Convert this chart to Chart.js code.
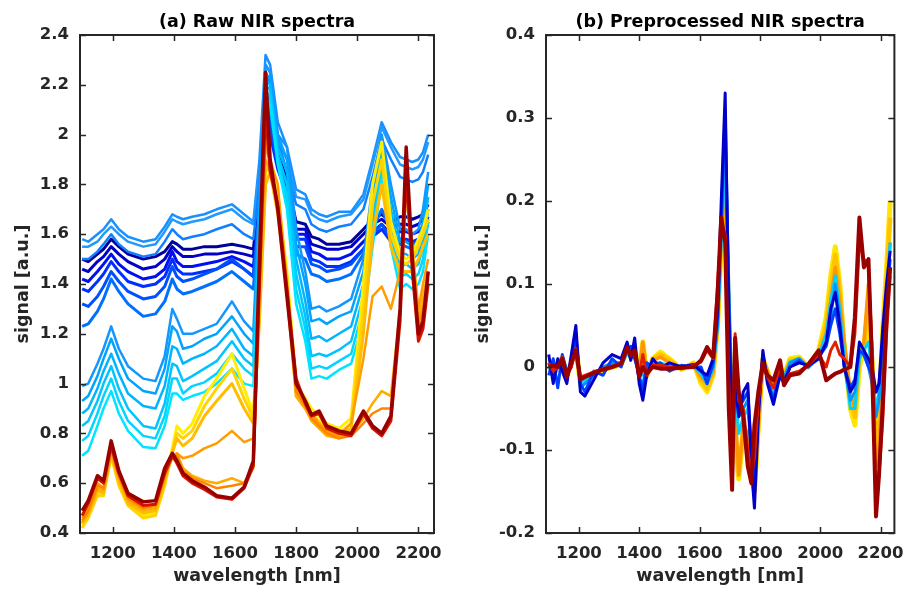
<!DOCTYPE html>
<html>
<head>
<meta charset="utf-8">
<title>NIR spectra</title>
<script src="https://cdn.jsdelivr.net/npm/chart.js@4.4.0/dist/chart.umd.min.js"></script>
<style>
    body { margin: 0; background: #fff; width: 915px; height: 590px; position: relative; overflow: hidden; }
    .panel { position: absolute; top: 0; height: 590px; }
</style>
</head>
<body>
<div class="panel" style="left:0;width:460px"><canvas id="rawChart"></canvas></div>
<div class="panel" style="left:460px;width:455px"><canvas id="prepChart"></canvas></div>
<script>
// ---- (a) raw spectra ----
const rawWavelength = [1100,1120,1150,1170,1195,1220,1250,1300,1340,1370,1395,1410,1430,1460,1500,1540,1590,1630,1660,1680,1700,1715,1740,1770,1800,1830,1850,1875,1900,1940,1980,2020,2050,2080,2110,2140,2160,2180,2200,2215,2232];

const rawTop1 = [1.58,1.57,1.6,1.62,1.66,1.62,1.59,1.57,1.58,1.63,1.68,1.67,1.66,1.67,1.68,1.7,1.72,1.68,1.65,1.9,2.32,2.28,2.05,1.95,1.78,1.76,1.7,1.68,1.67,1.69,1.69,1.76,1.9,2.05,1.97,1.91,1.9,1.89,1.9,1.93,2.0];
const rawTop2 = [1.55,1.55,1.57,1.6,1.63,1.6,1.57,1.55,1.56,1.61,1.66,1.65,1.64,1.65,1.66,1.68,1.7,1.66,1.64,1.85,2.28,2.25,2.0,1.9,1.75,1.74,1.68,1.66,1.65,1.67,1.68,1.74,1.88,2.03,1.95,1.88,1.87,1.86,1.87,1.9,1.97];
const rawTop3 = [1.5,1.5,1.53,1.56,1.6,1.56,1.53,1.51,1.52,1.57,1.62,1.6,1.58,1.59,1.6,1.62,1.64,1.6,1.58,1.8,2.25,2.2,1.98,1.85,1.72,1.7,1.64,1.62,1.61,1.63,1.64,1.7,1.83,1.98,1.9,1.83,1.82,1.81,1.82,1.85,1.92];
const rawNavy1 = [1.5,1.49,1.52,1.54,1.58,1.55,1.52,1.5,1.51,1.53,1.57,1.56,1.54,1.54,1.55,1.55,1.56,1.55,1.54,1.75,2.15,2.1,1.92,1.82,1.65,1.64,1.59,1.58,1.56,1.56,1.57,1.62,1.66,1.68,1.65,1.67,1.67,1.66,1.67,1.68,1.72];
const rawNavy2 = [1.46,1.45,1.49,1.51,1.55,1.52,1.49,1.46,1.47,1.5,1.55,1.53,1.51,1.51,1.52,1.52,1.53,1.52,1.51,1.72,2.12,2.06,1.9,1.8,1.62,1.62,1.56,1.55,1.54,1.54,1.55,1.6,1.64,1.66,1.63,1.64,1.64,1.63,1.64,1.66,1.7];
const rawNavy3 = [1.42,1.41,1.45,1.48,1.52,1.48,1.45,1.42,1.43,1.46,1.53,1.49,1.47,1.47,1.48,1.49,1.51,1.49,1.47,1.7,2.1,2.03,1.88,1.78,1.6,1.6,1.53,1.52,1.5,1.5,1.52,1.57,1.61,1.64,1.6,1.61,1.61,1.6,1.61,1.63,1.67];
const rawNavy4 = [1.38,1.37,1.41,1.44,1.49,1.45,1.41,1.39,1.4,1.43,1.5,1.46,1.44,1.44,1.45,1.46,1.49,1.46,1.43,1.68,2.08,2.0,1.86,1.76,1.58,1.58,1.5,1.49,1.47,1.47,1.49,1.54,1.59,1.62,1.57,1.58,1.58,1.57,1.58,1.6,1.64];
const rawBlue1 = [1.32,1.31,1.35,1.39,1.45,1.41,1.37,1.34,1.35,1.39,1.47,1.43,1.41,1.42,1.44,1.46,1.5,1.46,1.43,1.7,2.15,2.05,1.88,1.75,1.55,1.55,1.48,1.47,1.45,1.46,1.48,1.54,1.6,1.64,1.58,1.58,1.57,1.56,1.57,1.6,1.66];
const rawBlue2 = [1.23,1.24,1.29,1.34,1.42,1.37,1.32,1.27,1.28,1.33,1.42,1.38,1.36,1.37,1.39,1.41,1.45,1.41,1.38,1.7,2.18,2.1,1.9,1.72,1.52,1.5,1.44,1.43,1.41,1.42,1.44,1.52,1.62,1.7,1.62,1.56,1.55,1.54,1.55,1.58,1.65];
const rawSky1 = [0.99,1.0,1.08,1.14,1.23,1.14,1.07,1.02,1.01,1.11,1.3,1.26,1.2,1.2,1.22,1.24,1.33,1.25,1.21,1.75,2.28,2.25,2.0,1.95,1.62,1.45,1.3,1.31,1.29,1.31,1.34,1.5,1.8,2.0,1.8,1.62,1.62,1.6,1.62,1.7,1.85];
const rawSky2 = [0.93,0.95,1.03,1.1,1.18,1.1,1.02,0.97,0.96,1.06,1.23,1.21,1.14,1.15,1.18,1.2,1.27,1.2,1.16,1.7,2.25,2.22,1.98,1.9,1.56,1.4,1.25,1.26,1.24,1.27,1.29,1.45,1.75,1.97,1.75,1.57,1.57,1.55,1.57,1.65,1.8];
const rawSky3 = [0.88,0.9,0.98,1.05,1.12,1.04,0.96,0.91,0.9,0.99,1.15,1.14,1.08,1.1,1.12,1.15,1.22,1.14,1.11,1.65,2.22,2.2,1.95,1.85,1.5,1.33,1.18,1.19,1.17,1.2,1.23,1.4,1.7,1.93,1.7,1.52,1.52,1.5,1.52,1.6,1.75];
const rawSky4 = [0.83,0.85,0.93,1.0,1.07,0.98,0.9,0.83,0.82,0.92,1.08,1.07,1.01,1.03,1.06,1.09,1.17,1.1,1.07,1.6,2.2,2.18,1.92,1.8,1.44,1.27,1.11,1.12,1.11,1.135,1.17,1.35,1.65,1.9,1.65,1.47,1.48,1.46,1.48,1.55,1.7];
const rawSky5 = [0.77,0.79,0.88,0.95,1.02,0.93,0.85,0.79,0.78,0.87,1.02,1.02,0.96,0.99,1.005,1.04,1.12,1.06,1.03,1.55,2.18,2.15,1.9,1.75,1.38,1.22,1.06,1.07,1.06,1.09,1.12,1.3,1.6,1.86,1.6,1.43,1.44,1.42,1.44,1.5,1.65];
const rawSky6 = [0.71,0.73,0.83,0.9,0.97,0.88,0.81,0.745,0.74,0.83,0.96,0.96,0.935,0.95,0.966,1.0,1.06,1.0,0.99,1.5,2.15,2.12,1.88,1.7,1.32,1.17,1.02,1.03,1.02,1.055,1.08,1.25,1.55,1.82,1.55,1.38,1.4,1.38,1.4,1.45,1.6];
const rawYellow1 = [0.43,0.47,0.56,0.56,0.72,0.6,0.52,0.47,0.48,0.6,0.74,0.83,0.8,0.84,0.95,1.02,1.12,0.98,0.88,1.3,1.85,1.88,1.75,1.45,1.0,0.94,0.9,0.87,0.84,0.82,0.86,1.4,1.8,1.97,1.65,1.52,1.5,1.52,1.58,1.62,1.7];
const rawYellow2 = [0.42,0.46,0.55,0.55,0.71,0.59,0.51,0.46,0.47,0.59,0.73,0.8,0.78,0.81,0.91,0.98,1.06,0.94,0.86,1.3,1.85,1.88,1.7,1.42,0.98,0.92,0.88,0.85,0.82,0.8,0.84,1.3,1.72,1.9,1.6,1.5,1.48,1.5,1.55,1.6,1.66];
const rawYellow3 = [0.44,0.48,0.57,0.56,0.72,0.61,0.52,0.48,0.49,0.61,0.72,0.78,0.75,0.78,0.87,0.93,1.0,0.9,0.84,1.25,1.8,1.85,1.68,1.38,0.95,0.9,0.86,0.83,0.81,0.79,0.82,1.2,1.6,1.8,1.55,1.45,1.45,1.45,1.5,1.55,1.6];
const rawOrange1 = [0.46,0.5,0.6,0.58,0.74,0.64,0.55,0.5,0.51,0.63,0.7,0.72,0.7,0.71,0.74,0.76,0.81,0.765,0.78,1.4,1.95,1.9,1.8,1.4,1.0,0.93,0.88,0.84,0.81,0.79,0.84,1.1,1.35,1.39,1.3,1.45,1.75,1.55,1.3,1.4,1.5];
const rawOrange2 = [0.44,0.48,0.58,0.57,0.72,0.62,0.53,0.49,0.5,0.62,0.71,0.72,0.66,0.63,0.61,0.6,0.62,0.6,0.66,1.35,1.9,1.85,1.7,1.35,0.95,0.9,0.85,0.82,0.79,0.78,0.8,0.86,0.92,0.97,0.95,1.3,1.8,1.5,1.25,1.35,1.45];
const rawOrange3 = [0.45,0.49,0.59,0.58,0.73,0.63,0.54,0.5,0.51,0.63,0.71,0.71,0.65,0.62,0.6,0.58,0.59,0.6,0.67,1.4,2.0,1.88,1.72,1.38,0.97,0.91,0.86,0.83,0.8,0.78,0.79,0.84,0.88,0.9,0.9,1.28,1.85,1.5,1.22,1.3,1.42];
const rawRed = [0.47,0.52,0.62,0.6,0.75,0.64,0.55,0.51,0.515,0.64,0.71,0.68,0.63,0.6,0.575,0.545,0.535,0.58,0.67,1.4,2.1,1.85,1.72,1.38,1.02,0.92,0.87,0.88,0.82,0.8,0.79,0.88,0.82,0.79,0.85,1.25,1.85,1.45,1.17,1.22,1.4];
const rawDarkRed = [0.49,0.53,0.63,0.61,0.77,0.65,0.56,0.525,0.53,0.66,0.72,0.69,0.64,0.61,0.585,0.55,0.54,0.585,0.69,1.5,2.25,1.9,1.7,1.35,1.0,0.93,0.875,0.89,0.83,0.81,0.8,0.89,0.83,0.8,0.87,1.3,1.95,1.5,1.2,1.25,1.45];

// ---- (b) preprocessed spectra ----
const prepWavelength = [1100,1115,1130,1145,1160,1175,1190,1205,1220,1250,1280,1310,1340,1360,1372,1385,1400,1412,1425,1445,1470,1500,1540,1580,1605,1625,1645,1660,1672,1685,1697,1708,1718,1730,1745,1760,1772,1782,1795,1810,1825,1845,1867,1880,1900,1930,1960,1995,2020,2035,2050,2065,2080,2100,2115,2130,2145,2160,2172,2185,2195,2208,2220,2232];

const prepNavy = [0.015,-0.02,0.01,-0.005,-0.02,0.015,0.05,-0.03,-0.035,-0.015,0.005,0.015,0.01,0.03,0.008,0.035,-0.02,-0.04,-0.01,0.01,-0.002,0.005,0.0,0.003,-0.005,-0.01,0.01,0.07,0.2,0.33,0.06,-0.08,-0.02,-0.06,-0.03,-0.02,-0.12,-0.17,-0.06,0.02,-0.02,-0.045,-0.01,-0.02,0.0,0.005,0.002,0.01,0.03,0.07,0.09,0.05,0.0,-0.03,-0.02,0.03,0.02,0.01,0.0,-0.03,-0.02,0.05,0.1,0.14];
const prepBlue = [-0.01,0.01,-0.025,0.015,-0.005,0.0,0.04,-0.02,-0.03,-0.005,-0.01,0.01,0.0,0.02,0.025,0.01,-0.01,-0.03,0.005,0.0,0.005,-0.005,0.002,0.0,0.0,-0.02,0.005,0.06,0.18,0.31,0.08,-0.06,-0.03,-0.05,-0.04,-0.03,-0.1,-0.15,-0.05,0.015,-0.015,-0.04,-0.005,-0.018,0.0,0.008,0.0,0.012,0.025,0.05,0.07,0.04,0.0,-0.025,-0.015,0.02,0.015,0.0,-0.01,-0.03,-0.02,0.03,0.08,0.13];
const prepSky = [0.005,-0.015,0.0,0.005,-0.015,0.01,0.03,-0.025,-0.02,-0.01,0.0,0.005,0.005,0.02,0.01,0.02,-0.015,-0.02,0.0,0.003,0.0,0.0,0.0,0.0,-0.005,-0.015,0.0,0.05,0.16,0.28,0.1,-0.05,-0.01,-0.06,-0.05,-0.04,-0.1,-0.14,-0.05,0.01,-0.015,-0.04,-0.005,-0.015,0.005,0.01,0.0,0.01,0.03,0.06,0.1,0.06,0.0,-0.04,-0.03,0.02,0.015,0.0,-0.02,-0.06,-0.04,0.02,0.07,0.12];
const prepCyan = [0.0,-0.005,0.005,0.0,-0.01,0.005,0.025,-0.02,-0.015,-0.008,0.0,0.003,0.004,0.018,0.01,0.018,-0.01,-0.01,-0.005,0.005,0.005,0.002,0.0,0.002,-0.008,-0.02,-0.002,0.05,0.15,0.25,0.08,-0.05,-0.03,-0.08,-0.06,-0.05,-0.1,-0.14,-0.05,0.01,-0.01,-0.035,-0.002,-0.012,0.006,0.01,0.0,0.012,0.04,0.08,0.11,0.07,0.01,-0.05,-0.05,0.01,0.02,0.03,-0.01,-0.05,-0.03,0.03,0.09,0.15];
const prepYellow = [0.0,-0.005,0.005,0.01,-0.01,0.005,0.025,-0.02,-0.015,-0.008,-0.004,0.0,0.003,0.02,0.012,0.02,-0.005,0.03,-0.01,0.01,0.018,0.01,-0.003,0.005,-0.02,-0.03,-0.01,0.05,0.15,0.22,0.05,-0.06,-0.1,-0.135,-0.08,-0.09,-0.13,-0.15,-0.07,0.01,-0.005,-0.03,0.0,-0.01,0.01,0.012,0.0,0.02,0.06,0.11,0.145,0.1,0.02,-0.05,-0.07,0.0,0.02,0.06,0.0,-0.08,-0.05,0.05,0.12,0.2];
const prepGold = [0.002,-0.004,0.004,0.011,-0.009,0.004,0.022,-0.017,-0.013,-0.007,-0.003,0.0,0.003,0.02,0.013,0.02,-0.006,0.028,-0.011,0.01,0.015,0.008,-0.002,0.004,-0.016,-0.026,-0.008,0.055,0.16,0.225,0.04,-0.07,-0.08,-0.13,-0.075,-0.085,-0.125,-0.15,-0.07,0.01,-0.005,-0.03,0.0,-0.011,0.008,0.01,0.0,0.018,0.05,0.095,0.135,0.09,0.025,-0.04,-0.06,0.01,0.025,0.08,0.01,-0.1,-0.08,0.03,0.1,0.18];
const prepOrange = [0.0,-0.005,0.005,0.01,-0.008,0.003,0.02,-0.015,-0.012,-0.006,-0.003,0.0,0.003,0.02,0.012,0.02,-0.008,0.03,-0.012,0.008,0.012,0.005,-0.002,0.003,-0.012,-0.02,-0.005,0.06,0.17,0.23,0.03,-0.08,-0.05,-0.13,-0.07,-0.08,-0.12,-0.15,-0.07,0.01,-0.005,-0.03,0.0,-0.012,0.005,0.008,0.0,0.015,0.04,0.08,0.12,0.08,0.03,-0.03,-0.05,0.02,0.03,0.1,0.02,-0.12,-0.1,0.0,0.08,0.15];
const prepRed = [0.005,-0.005,0.0,0.012,-0.01,0.0,0.022,-0.012,-0.01,-0.006,-0.002,0.001,0.004,0.022,0.016,0.018,-0.01,0.015,-0.01,0.002,0.002,0.0,-0.002,0.002,0.006,0.02,0.01,0.1,0.17,0.16,-0.02,-0.12,0.04,-0.04,-0.05,-0.1,-0.13,-0.11,-0.04,0.0,-0.012,-0.025,0.0,-0.02,-0.008,-0.005,0.002,0.015,0.0,0.02,0.03,0.015,0.01,0.0,0.04,0.15,0.13,0.12,0.02,-0.16,-0.13,-0.06,0.04,0.11];
const prepDarkRed = [0.0,0.002,0.0,0.01,-0.012,0.005,0.02,-0.015,-0.012,-0.007,-0.003,0.0,0.004,0.024,0.014,0.02,-0.012,0.0,-0.008,0.0,-0.002,-0.002,-0.001,0.0,0.008,0.024,0.012,0.09,0.18,0.15,-0.05,-0.148,0.035,-0.03,-0.06,-0.12,-0.14,-0.07,-0.03,0.005,-0.01,-0.016,0.008,-0.022,-0.01,-0.008,0.003,0.02,-0.016,-0.012,-0.008,-0.006,-0.003,0.0,0.06,0.18,0.12,0.13,0.0,-0.18,-0.13,-0.04,0.06,0.12];

// ---- axes ----
const wavelengthTicks = [1200, 1400, 1600, 1800, 2000, 2200];
const rawSignalTicks = [0.4, 0.6, 0.8, 1, 1.2, 1.4, 1.6, 1.8, 2, 2.2, 2.4];
const prepSignalTicks = [-0.2, -0.1, 0, 0.1, 0.2, 0.3, 0.4];

const AXIS_COLOR = '#262626';
const FONT = 'DejaVu Sans';

// MATLAB style box: frame, inward ticks on all four sides, title over the plot area
const matlabBox = {
    id: 'matlabBox',
    afterDatasetsDraw(chart, args, opts) {
        const { ctx, chartArea: a, scales: { x, y } } = chart;
        const len = 6;
        ctx.save();
        ctx.strokeStyle = AXIS_COLOR;
        ctx.lineWidth = 1.5;
        ctx.beginPath();
        x.ticks.forEach(t => {
            const px = Math.round(x.getPixelForValue(t.value)) + 0.5;
            ctx.moveTo(px, a.bottom); ctx.lineTo(px, a.bottom - len);
            ctx.moveTo(px, a.top); ctx.lineTo(px, a.top + len);
        });
        y.ticks.forEach(t => {
            const py = Math.round(y.getPixelForValue(t.value)) + 0.5;
            ctx.moveTo(a.left, py); ctx.lineTo(a.left + len, py);
            ctx.moveTo(a.right, py); ctx.lineTo(a.right - len, py);
        });
        ctx.stroke();
        ctx.lineWidth = 2;
        ctx.strokeRect(a.left, a.top, a.right - a.left, a.bottom - a.top);
        ctx.fillStyle = '#000';
        ctx.font = `bold 17.5px "${FONT}"`;
        ctx.textAlign = 'center';
        ctx.textBaseline = 'middle';
        ctx.fillText(opts.text, (a.left + a.right) / 2, 22);
        ctx.restore();
    }
};

function line(xs, ys, color, width) {
    return {
        data: xs.map((x, i) => ({ x: x, y: ys[i] })),
        borderColor: color,
        borderWidth: width,
        borderJoinStyle: 'round',
        pointRadius: 0,
        fill: false,
        tension: 0
    };
}

function panelOptions(cfg) {
    return {
        responsive: true,
        maintainAspectRatio: false,
        animation: false,
        events: [],
        layout: { padding: { left: 0, top: 35, right: cfg.padRight, bottom: 0 } },
        plugins: {
            legend: { display: false },
            tooltip: { enabled: false },
            matlabBox: { text: cfg.title }
        },
        scales: {
            x: {
                type: 'linear',
                min: cfg.xMin,
                max: cfg.xMax,
                afterBuildTicks: s => { s.ticks = wavelengthTicks.map(v => ({ value: v })); },
                afterFit: s => { s.height = 57; },
                grid: { display: false, drawTicks: false },
                border: { display: false },
                ticks: {
                    autoSkip: false, maxRotation: 0, padding: 11,
                    color: AXIS_COLOR,
                    font: { family: FONT, weight: 'bold', size: 16.5 },
                    callback: v => String(v)
                },
                title: {
                    display: true, text: 'wavelength [nm]', color: AXIS_COLOR,
                    font: { family: FONT, weight: 'bold', size: 17.5 },
                    padding: { top: 0, bottom: 3 }
                }
            },
            y: {
                type: 'linear',
                min: cfg.yMin,
                max: cfg.yMax,
                afterBuildTicks: s => { s.ticks = cfg.yTicks.map(v => ({ value: v })); },
                afterFit: s => { s.width = cfg.yWidth; },
                grid: { display: false, drawTicks: false },
                border: { display: false },
                ticks: {
                    autoSkip: false, padding: 11,
                    color: AXIS_COLOR,
                    font: { family: FONT, weight: 'bold', size: 16.5 },
                    callback: v => String(v)
                },
                title: {
                    display: true, text: 'signal [a.u.]', color: AXIS_COLOR,
                    font: { family: FONT, weight: 'bold', size: 17.5 },
                    padding: { top: 13, bottom: 0 }
                }
            }
        }
    };
}

// first dataset is drawn on top
const rawDatasets = [
    line(rawWavelength, rawDarkRed, '#990000', 3.5),
    line(rawWavelength, rawRed, '#d41400', 3),
    line(rawWavelength, rawOrange3, '#ff8400', 2.5),
    line(rawWavelength, rawOrange1, '#ff9c00', 2.5),
    line(rawWavelength, rawOrange2, '#ffac00', 2.5),
    line(rawWavelength, rawYellow3, '#ffbc00', 3),
    line(rawWavelength, rawYellow2, '#ffd400', 3),
    line(rawWavelength, rawYellow1, '#ffee00', 3),
    line(rawWavelength, rawSky6, '#00e4ff', 2.5),
    line(rawWavelength, rawSky5, '#00d4ff', 2.5),
    line(rawWavelength, rawSky4, '#00c4ff', 2.5),
    line(rawWavelength, rawSky3, '#00b4ff', 2.5),
    line(rawWavelength, rawSky2, '#00a4ff', 2.5),
    line(rawWavelength, rawSky1, '#1496ff', 2.5),
    line(rawWavelength, rawTop3, '#1080ff', 2.5),
    line(rawWavelength, rawTop2, '#2299ff', 2.5),
    line(rawWavelength, rawTop1, '#1a90ff', 2.5),
    line(rawWavelength, rawBlue2, '#0070ff', 3),
    line(rawWavelength, rawBlue1, '#0050ff', 3),
    line(rawWavelength, rawNavy4, '#0030ff', 3),
    line(rawWavelength, rawNavy3, '#0010f0', 3),
    line(rawWavelength, rawNavy2, '#0000c8', 3),
    line(rawWavelength, rawNavy1, '#00009a', 3)
];

const prepDatasets = [
    line(prepWavelength, prepDarkRed, '#990000', 4),
    line(prepWavelength, prepRed, '#e02000', 3),
    line(prepWavelength, prepNavy, '#0000c8', 3),
    line(prepWavelength, prepBlue, '#0040ff', 3),
    line(prepWavelength, prepSky, '#0096ff', 3),
    line(prepWavelength, prepCyan, '#00d0ff', 3),
    line(prepWavelength, prepOrange, '#ff9800', 3.5),
    line(prepWavelength, prepGold, '#ffc400', 4.5),
    line(prepWavelength, prepYellow, '#ffe600', 5)
];

new Chart(document.getElementById('rawChart'), {
    type: 'line',
    data: { datasets: rawDatasets },
    options: panelOptions({
        title: '(a) Raw NIR spectra',
        xMin: 1093, xMax: 2251, yMin: 0.4, yMax: 2.4,
        yTicks: rawSignalTicks, yWidth: 80, padRight: 26
    }),
    plugins: [matlabBox]
});

new Chart(document.getElementById('prepChart'), {
    type: 'line',
    data: { datasets: prepDatasets },
    options: panelOptions({
        title: '(b) Preprocessed NIR spectra',
        xMin: 1091, xMax: 2246, yMin: -0.2, yMax: 0.4,
        yTicks: prepSignalTicks, yWidth: 86, padRight: 13
    }),
    plugins: [matlabBox]
});
</script>
</body>
</html>
